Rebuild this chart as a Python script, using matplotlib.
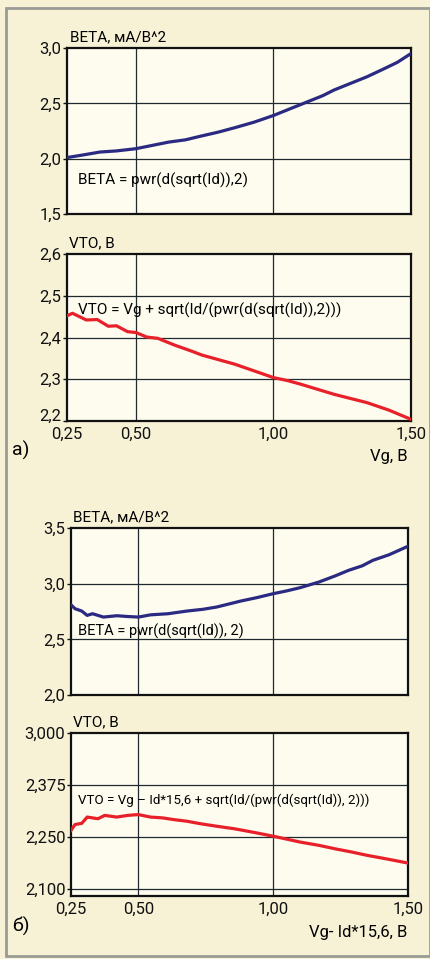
import numpy as np
import matplotlib
matplotlib.use("Agg")
import matplotlib.pyplot as plt
from matplotlib.patches import Rectangle

plt.rcParams['font.family'] = ['Roboto', 'DejaVu Sans']

# ---------------- data ----------------
beta_a_x = [0.25, 0.30, 0.37, 0.43, 0.50, 0.56, 0.62, 0.68, 0.73, 0.80, 0.86, 0.93, 1.00,
            1.06, 1.12, 1.18, 1.22, 1.28, 1.34, 1.40, 1.45, 1.50]
beta_a_y = [2.01, 2.03, 2.06, 2.07, 2.09, 2.12, 2.15, 2.17, 2.20, 2.24, 2.28, 2.33, 2.39,
            2.45, 2.51, 2.57, 2.62, 2.68, 2.74, 2.81, 2.87, 2.95]

vto_a_x = [0.25, 0.27, 0.32, 0.36, 0.40, 0.43, 0.47, 0.50, 0.54, 0.58, 0.64, 0.70, 0.74,
           0.80, 0.86, 0.93, 1.00, 1.05, 1.10, 1.16, 1.22, 1.28, 1.34, 1.42, 1.50]
vto_a_y = [2.452, 2.458, 2.442, 2.443, 2.427, 2.428, 2.414, 2.412, 2.401, 2.398, 2.382,
           2.368, 2.358, 2.347, 2.336, 2.320, 2.304, 2.297, 2.288, 2.276, 2.264, 2.254,
           2.244, 2.226, 2.204]

beta_b_x = [0.25, 0.265, 0.29, 0.31, 0.33, 0.37, 0.42, 0.46, 0.50, 0.545, 0.61, 0.68,
            0.74, 0.79, 0.88, 0.94, 1.00, 1.05, 1.10, 1.17, 1.23, 1.28, 1.33, 1.37, 1.43, 1.50]
beta_b_y = [2.81, 2.775, 2.754, 2.715, 2.73, 2.70, 2.712, 2.705, 2.70, 2.72, 2.73, 2.754,
            2.77, 2.79, 2.844, 2.875, 2.91, 2.935, 2.964, 3.015, 3.07, 3.12, 3.16, 3.21,
            3.26, 3.336]

vto_b_x = [0.25, 0.265, 0.29, 0.31, 0.35, 0.375, 0.42, 0.46, 0.50, 0.545, 0.59, 0.63,
           0.68, 0.73, 0.79, 0.855, 0.93, 1.00, 1.05, 1.10, 1.17, 1.23, 1.29, 1.35, 1.42, 1.50]
vto_b_y = [2.266, 2.280, 2.283, 2.298, 2.294, 2.302, 2.298, 2.302, 2.304, 2.298, 2.296,
           2.292, 2.288, 2.282, 2.276, 2.270, 2.261, 2.252, 2.244, 2.2355, 2.226, 2.216,
           2.207, 2.197, 2.187, 2.175]

x_ticks = [0.25, 0.50, 1.00, 1.50]
x_ticklabels = ["0,25", "0,50", "1,00", "1,50"]
beta_a_ticks = [1.5, 2.0, 2.5, 3.0]
beta_a_labels = ["1,5", "2,0", "2,5", "3,0"]
vto_a_ticks = [2.2, 2.3, 2.4, 2.5, 2.6]
vto_a_labels = ["2,2", "2,3", "2,4", "2,5", "2,6"]
beta_b_ticks = [2.0, 2.5, 3.0, 3.5]
beta_b_labels = ["2,0", "2,5", "3,0", "3,5"]
vto_b_ticks = [2.100, 2.250, 2.375, 3.000]
vto_b_labels = ["2,100", "2,250", "2,375", "3,000"]

# ---------------- layout ----------------
W, H = 431, 959
fig = plt.figure(figsize=(W / 100, H / 100), dpi=100)
BG = '#f7f1d6'
fig.patch.set_facecolor(BG)
fig.patches.append(Rectangle((6 / W, 1 - 956 / H), 424 / W, (956 - 8) / H,
                             transform=fig.transFigure, fill=False,
                             edgecolor='#9a9a96', lw=2.0))

BLUE = '#2b2a82'
RED = '#e8202a'
GRID = '#1e2a30'
FS = 11.0
TFS = 12.0


def make_ax(left, right, top, bottom):
    ax = fig.add_axes([left / W, 1 - bottom / H, (right - left) / W, (bottom - top) / H])
    ax.set_facecolor('#fdfcef')
    for s in ax.spines.values():
        s.set_linewidth(1.6)
        s.set_color('#111111')
    ax.tick_params(axis='y', length=3, width=1, pad=1, labelsize=TFS, colors='#111111')
    ax.tick_params(axis='x', length=0, pad=4.5, labelsize=TFS, colors='#111111')
    ax.set_xlim(0.25, 1.50)
    return ax


def vgrid(ax):
    for xv in [0.50, 1.00]:
        ax.axvline(xv, color=GRID, lw=0.9, zorder=1)


# Panel a - BETA
ax1 = make_ax(67, 411, 48, 214)
ax1.set_ylim(1.5, 3.0)
ax1.set_yticks(beta_a_ticks, beta_a_labels)
ax1.set_xticks([])
vgrid(ax1)
for yv in [2.0, 2.5]:
    ax1.axhline(yv, color=GRID, lw=0.9, zorder=1)
ax1.plot(beta_a_x, beta_a_y, color=BLUE, lw=2.3, zorder=3)
ax1.text(0.01, 1.02, "BETA, мА/В^2", transform=ax1.transAxes, fontsize=FS,
         ha='left', va='bottom')
ax1.text(0.031, 0.205, "BETA = pwr(d(sqrt(Id)),2)", transform=ax1.transAxes,
         fontsize=FS, ha='left', va='center', zorder=4)

# Panel a - VTO
ax2 = make_ax(67, 411, 254, 421)
ax2.set_ylim(2.2, 2.6)
ax2.set_yticks(vto_a_ticks, vto_a_labels)
ax2.yaxis.get_major_ticks()[0].label1.set_va('baseline')
ax2.set_xticks(x_ticks, x_ticklabels)
vgrid(ax2)
for yv in [2.3, 2.4, 2.5]:
    ax2.axhline(yv, color=GRID, lw=0.9, zorder=1)
ax2.plot(vto_a_x, vto_a_y, color=RED, lw=2.3, zorder=3)
ax2.text(0.005, 1.02, "VTO, В", transform=ax2.transAxes, fontsize=FS,
         ha='left', va='bottom')
ax2.text(0.031, 0.665, "VTO = Vg + sqrt(Id/(pwr(d(sqrt(Id)),2)))",
         transform=ax2.transAxes, fontsize=FS, ha='left', va='center', zorder=4)
fig.text(408 / W, 1 - 456 / H, "Vg, В", fontsize=TFS, ha='right', va='center')
fig.text(12 / W, 1 - 450 / H, "а)", fontsize=TFS + 2, ha='left', va='center')

# Panel b - BETA
ax3 = make_ax(71, 408, 528, 695)
ax3.set_ylim(2.0, 3.5)
ax3.set_yticks(beta_b_ticks, beta_b_labels)
ax3.set_xticks([])
vgrid(ax3)
for yv in [2.5, 3.0]:
    ax3.axhline(yv, color=GRID, lw=0.9, zorder=1)
ax3.plot(beta_b_x, beta_b_y, color=BLUE, lw=2.3, zorder=3)
ax3.text(0.005, 1.02, "BETA, мА/В^2", transform=ax3.transAxes, fontsize=FS,
         ha='left', va='bottom')
ax3.text(0.02, 0.383, "BETA = pwr(d(sqrt(Id)), 2)", transform=ax3.transAxes,
         fontsize=FS - 0.5, ha='left', va='center', zorder=4)

# Panel b - VTO (non-uniform labelled grid)
lv = np.array(vto_b_ticks)
gi = np.arange(len(lv), dtype=float)


def fwd(v):
    v = np.asarray(v, dtype=float)
    out = np.interp(v, lv, gi)
    out = np.where(v < lv[0], (v - lv[0]) / (lv[1] - lv[0]), out)
    out = np.where(v > lv[-1], gi[-1] + (v - lv[-1]) / (lv[-1] - lv[-2]), out)
    return out


def inv(g):
    g = np.asarray(g, dtype=float)
    out = np.interp(g, gi, lv)
    out = np.where(g < 0, lv[0] + g * (lv[1] - lv[0]), out)
    out = np.where(g > gi[-1], lv[-1] + (g - gi[-1]) * (lv[-1] - lv[-2]), out)
    return out


ax4 = make_ax(71, 408, 733, 896)
ax4.set_yscale('function', functions=(fwd, inv))
ax4.set_ylim(2.080, 3.000)
ax4.set_yticks(vto_b_ticks, vto_b_labels)
ax4.minorticks_off()
ax4.set_xticks(x_ticks, x_ticklabels)
vgrid(ax4)
for yv in [2.100, 2.250, 2.375]:
    ax4.axhline(yv, color=GRID, lw=0.9, zorder=1)
ax4.plot(vto_b_x, vto_b_y, color=RED, lw=2.3, zorder=3)
ax4.text(0.005, 1.02, "VTO, В", transform=ax4.transAxes, fontsize=FS,
         ha='left', va='bottom')
ax4.text(0.02, 0.59, "VTO = Vg \u2013 Id*15,6 + sqrt(Id/(pwr(d(sqrt(Id)), 2)))",
         transform=ax4.transAxes, fontsize=9.6, ha='left', va='center', zorder=4)
fig.text(407 / W, 1 - 933 / H, "Vg- Id*15,6, В", fontsize=TFS, ha='right', va='center')
fig.text(12 / W, 1 - 926 / H, "б)", fontsize=TFS + 2, ha='left', va='center')

fig.savefig("out.png", dpi=100, facecolor=BG)
